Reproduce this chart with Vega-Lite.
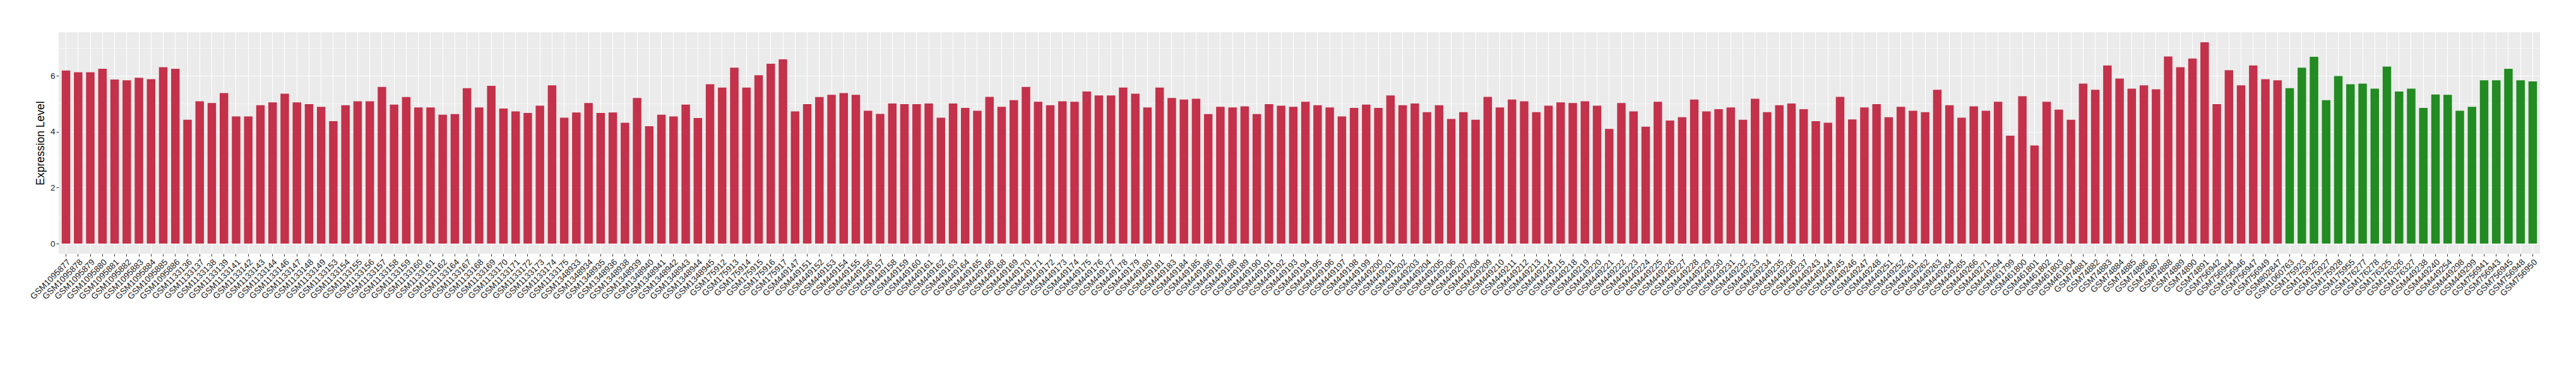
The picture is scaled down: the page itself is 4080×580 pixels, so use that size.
{
  "$schema": "https://vega.github.io/schema/vega-lite/v6.json",
  "autosize": {"type": "none"},
  "width": 3930,
  "height": 351,
  "padding": {"left": 93, "top": 51, "right": 57, "bottom": 178},
  "background": "white",
  "config": {
    "view": {"fill": "#EBEBEB", "stroke": null},
    "font": "Liberation Sans"
  },
  "data": {"values": [
    {"sample":"GSM1095877","value":6.19,"group":"A"},
    {"sample":"GSM1095878","value":6.13,"group":"A"},
    {"sample":"GSM1095879","value":6.13,"group":"A"},
    {"sample":"GSM1095880","value":6.25,"group":"A"},
    {"sample":"GSM1095881","value":5.87,"group":"A"},
    {"sample":"GSM1095882","value":5.84,"group":"A"},
    {"sample":"GSM1095883","value":5.93,"group":"A"},
    {"sample":"GSM1095884","value":5.88,"group":"A"},
    {"sample":"GSM1095885","value":6.31,"group":"A"},
    {"sample":"GSM1095886","value":6.25,"group":"A"},
    {"sample":"GSM1133136","value":4.43,"group":"A"},
    {"sample":"GSM1133137","value":5.09,"group":"A"},
    {"sample":"GSM1133138","value":5.03,"group":"A"},
    {"sample":"GSM1133139","value":5.38,"group":"A"},
    {"sample":"GSM1133141","value":4.55,"group":"A"},
    {"sample":"GSM1133142","value":4.55,"group":"A"},
    {"sample":"GSM1133143","value":4.95,"group":"A"},
    {"sample":"GSM1133144","value":5.05,"group":"A"},
    {"sample":"GSM1133146","value":5.36,"group":"A"},
    {"sample":"GSM1133147","value":5.05,"group":"A"},
    {"sample":"GSM1133148","value":4.99,"group":"A"},
    {"sample":"GSM1133149","value":4.89,"group":"A"},
    {"sample":"GSM1133153","value":4.38,"group":"A"},
    {"sample":"GSM1133154","value":4.95,"group":"A"},
    {"sample":"GSM1133155","value":5.09,"group":"A"},
    {"sample":"GSM1133156","value":5.09,"group":"A"},
    {"sample":"GSM1133157","value":5.60,"group":"A"},
    {"sample":"GSM1133158","value":4.97,"group":"A"},
    {"sample":"GSM1133159","value":5.24,"group":"A"},
    {"sample":"GSM1133160","value":4.87,"group":"A"},
    {"sample":"GSM1133161","value":4.87,"group":"A"},
    {"sample":"GSM1133162","value":4.61,"group":"A"},
    {"sample":"GSM1133164","value":4.63,"group":"A"},
    {"sample":"GSM1133167","value":5.56,"group":"A"},
    {"sample":"GSM1133168","value":4.87,"group":"A"},
    {"sample":"GSM1133169","value":5.64,"group":"A"},
    {"sample":"GSM1133170","value":4.83,"group":"A"},
    {"sample":"GSM1133171","value":4.73,"group":"A"},
    {"sample":"GSM1133172","value":4.67,"group":"A"},
    {"sample":"GSM1133173","value":4.93,"group":"A"},
    {"sample":"GSM1133174","value":5.66,"group":"A"},
    {"sample":"GSM1133175","value":4.50,"group":"A"},
    {"sample":"GSM1348933","value":4.69,"group":"A"},
    {"sample":"GSM1348934","value":5.03,"group":"A"},
    {"sample":"GSM1348935","value":4.67,"group":"A"},
    {"sample":"GSM1348936","value":4.69,"group":"A"},
    {"sample":"GSM1348938","value":4.32,"group":"A"},
    {"sample":"GSM1348939","value":5.21,"group":"A"},
    {"sample":"GSM1348940","value":4.20,"group":"A"},
    {"sample":"GSM1348941","value":4.61,"group":"A"},
    {"sample":"GSM1348942","value":4.55,"group":"A"},
    {"sample":"GSM1348943","value":4.97,"group":"A"},
    {"sample":"GSM1348944","value":4.49,"group":"A"},
    {"sample":"GSM1348945","value":5.70,"group":"A"},
    {"sample":"GSM175912","value":5.58,"group":"A"},
    {"sample":"GSM175913","value":6.29,"group":"A"},
    {"sample":"GSM175914","value":5.58,"group":"A"},
    {"sample":"GSM175915","value":6.02,"group":"A"},
    {"sample":"GSM175916","value":6.43,"group":"A"},
    {"sample":"GSM175917","value":6.59,"group":"A"},
    {"sample":"GSM449147","value":4.73,"group":"A"},
    {"sample":"GSM449151","value":4.99,"group":"A"},
    {"sample":"GSM449152","value":5.24,"group":"A"},
    {"sample":"GSM449153","value":5.32,"group":"A"},
    {"sample":"GSM449154","value":5.38,"group":"A"},
    {"sample":"GSM449155","value":5.32,"group":"A"},
    {"sample":"GSM449156","value":4.75,"group":"A"},
    {"sample":"GSM449157","value":4.64,"group":"A"},
    {"sample":"GSM449158","value":5.01,"group":"A"},
    {"sample":"GSM449159","value":4.99,"group":"A"},
    {"sample":"GSM449160","value":4.99,"group":"A"},
    {"sample":"GSM449161","value":5.01,"group":"A"},
    {"sample":"GSM449162","value":4.50,"group":"A"},
    {"sample":"GSM449163","value":5.01,"group":"A"},
    {"sample":"GSM449164","value":4.85,"group":"A"},
    {"sample":"GSM449165","value":4.75,"group":"A"},
    {"sample":"GSM449166","value":5.25,"group":"A"},
    {"sample":"GSM449168","value":4.89,"group":"A"},
    {"sample":"GSM449169","value":5.13,"group":"A"},
    {"sample":"GSM449170","value":5.60,"group":"A"},
    {"sample":"GSM449171","value":5.07,"group":"A"},
    {"sample":"GSM449172","value":4.95,"group":"A"},
    {"sample":"GSM449173","value":5.09,"group":"A"},
    {"sample":"GSM449174","value":5.07,"group":"A"},
    {"sample":"GSM449175","value":5.44,"group":"A"},
    {"sample":"GSM449176","value":5.30,"group":"A"},
    {"sample":"GSM449177","value":5.30,"group":"A"},
    {"sample":"GSM449178","value":5.58,"group":"A"},
    {"sample":"GSM449179","value":5.36,"group":"A"},
    {"sample":"GSM449180","value":4.87,"group":"A"},
    {"sample":"GSM449181","value":5.58,"group":"A"},
    {"sample":"GSM449183","value":5.21,"group":"A"},
    {"sample":"GSM449184","value":5.15,"group":"A"},
    {"sample":"GSM449185","value":5.18,"group":"A"},
    {"sample":"GSM449186","value":4.63,"group":"A"},
    {"sample":"GSM449187","value":4.89,"group":"A"},
    {"sample":"GSM449188","value":4.87,"group":"A"},
    {"sample":"GSM449189","value":4.91,"group":"A"},
    {"sample":"GSM449190","value":4.63,"group":"A"},
    {"sample":"GSM449191","value":4.99,"group":"A"},
    {"sample":"GSM449192","value":4.93,"group":"A"},
    {"sample":"GSM449193","value":4.89,"group":"A"},
    {"sample":"GSM449194","value":5.07,"group":"A"},
    {"sample":"GSM449195","value":4.95,"group":"A"},
    {"sample":"GSM449196","value":4.87,"group":"A"},
    {"sample":"GSM449197","value":4.55,"group":"A"},
    {"sample":"GSM449198","value":4.85,"group":"A"},
    {"sample":"GSM449199","value":4.97,"group":"A"},
    {"sample":"GSM449200","value":4.85,"group":"A"},
    {"sample":"GSM449201","value":5.30,"group":"A"},
    {"sample":"GSM449202","value":4.95,"group":"A"},
    {"sample":"GSM449203","value":5.01,"group":"A"},
    {"sample":"GSM449204","value":4.70,"group":"A"},
    {"sample":"GSM449205","value":4.95,"group":"A"},
    {"sample":"GSM449206","value":4.46,"group":"A"},
    {"sample":"GSM449207","value":4.70,"group":"A"},
    {"sample":"GSM449208","value":4.43,"group":"A"},
    {"sample":"GSM449209","value":5.25,"group":"A"},
    {"sample":"GSM449210","value":4.87,"group":"A"},
    {"sample":"GSM449211","value":5.15,"group":"A"},
    {"sample":"GSM449212","value":5.09,"group":"A"},
    {"sample":"GSM449213","value":4.70,"group":"A"},
    {"sample":"GSM449214","value":4.93,"group":"A"},
    {"sample":"GSM449215","value":5.05,"group":"A"},
    {"sample":"GSM449218","value":5.03,"group":"A"},
    {"sample":"GSM449219","value":5.09,"group":"A"},
    {"sample":"GSM449220","value":4.93,"group":"A"},
    {"sample":"GSM449221","value":4.10,"group":"A"},
    {"sample":"GSM449222","value":5.03,"group":"A"},
    {"sample":"GSM449223","value":4.73,"group":"A"},
    {"sample":"GSM449224","value":4.18,"group":"A"},
    {"sample":"GSM449225","value":5.07,"group":"A"},
    {"sample":"GSM449226","value":4.40,"group":"A"},
    {"sample":"GSM449227","value":4.52,"group":"A"},
    {"sample":"GSM449228","value":5.15,"group":"A"},
    {"sample":"GSM449229","value":4.73,"group":"A"},
    {"sample":"GSM449230","value":4.81,"group":"A"},
    {"sample":"GSM449231","value":4.87,"group":"A"},
    {"sample":"GSM449232","value":4.43,"group":"A"},
    {"sample":"GSM449233","value":5.18,"group":"A"},
    {"sample":"GSM449234","value":4.70,"group":"A"},
    {"sample":"GSM449235","value":4.95,"group":"A"},
    {"sample":"GSM449236","value":5.01,"group":"A"},
    {"sample":"GSM449237","value":4.81,"group":"A"},
    {"sample":"GSM449243","value":4.38,"group":"A"},
    {"sample":"GSM449244","value":4.32,"group":"A"},
    {"sample":"GSM449245","value":5.25,"group":"A"},
    {"sample":"GSM449246","value":4.44,"group":"A"},
    {"sample":"GSM449247","value":4.87,"group":"A"},
    {"sample":"GSM449248","value":4.99,"group":"A"},
    {"sample":"GSM449251","value":4.52,"group":"A"},
    {"sample":"GSM449252","value":4.89,"group":"A"},
    {"sample":"GSM449261","value":4.75,"group":"A"},
    {"sample":"GSM449262","value":4.70,"group":"A"},
    {"sample":"GSM449263","value":5.50,"group":"A"},
    {"sample":"GSM449264","value":4.95,"group":"A"},
    {"sample":"GSM449265","value":4.50,"group":"A"},
    {"sample":"GSM449266","value":4.91,"group":"A"},
    {"sample":"GSM449271","value":4.75,"group":"A"},
    {"sample":"GSM449294","value":5.07,"group":"A"},
    {"sample":"GSM461799","value":3.86,"group":"A"},
    {"sample":"GSM461800","value":5.27,"group":"A"},
    {"sample":"GSM461801","value":3.51,"group":"A"},
    {"sample":"GSM461802","value":5.07,"group":"A"},
    {"sample":"GSM461803","value":4.79,"group":"A"},
    {"sample":"GSM461804","value":4.43,"group":"A"},
    {"sample":"GSM74881","value":5.72,"group":"A"},
    {"sample":"GSM74882","value":5.50,"group":"A"},
    {"sample":"GSM74883","value":6.37,"group":"A"},
    {"sample":"GSM74884","value":5.90,"group":"A"},
    {"sample":"GSM74885","value":5.54,"group":"A"},
    {"sample":"GSM74886","value":5.66,"group":"A"},
    {"sample":"GSM74887","value":5.52,"group":"A"},
    {"sample":"GSM74888","value":6.69,"group":"A"},
    {"sample":"GSM74889","value":6.31,"group":"A"},
    {"sample":"GSM74890","value":6.62,"group":"A"},
    {"sample":"GSM74891","value":7.20,"group":"A"},
    {"sample":"GSM756942","value":4.99,"group":"A"},
    {"sample":"GSM756944","value":6.20,"group":"A"},
    {"sample":"GSM756946","value":5.66,"group":"A"},
    {"sample":"GSM756947","value":6.37,"group":"A"},
    {"sample":"GSM756949","value":5.88,"group":"A"},
    {"sample":"GSM802847","value":5.84,"group":"A"},
    {"sample":"GSM1060763","value":5.56,"group":"B"},
    {"sample":"GSM175923","value":6.29,"group":"B"},
    {"sample":"GSM175925","value":6.68,"group":"B"},
    {"sample":"GSM175927","value":5.13,"group":"B"},
    {"sample":"GSM175928","value":5.99,"group":"B"},
    {"sample":"GSM175955","value":5.70,"group":"B"},
    {"sample":"GSM176277","value":5.72,"group":"B"},
    {"sample":"GSM176278","value":5.54,"group":"B"},
    {"sample":"GSM176325","value":6.33,"group":"B"},
    {"sample":"GSM176326","value":5.44,"group":"B"},
    {"sample":"GSM176327","value":5.54,"group":"B"},
    {"sample":"GSM449238","value":4.85,"group":"B"},
    {"sample":"GSM449240","value":5.33,"group":"B"},
    {"sample":"GSM449254","value":5.32,"group":"B"},
    {"sample":"GSM449298","value":4.75,"group":"B"},
    {"sample":"GSM449299","value":4.89,"group":"B"},
    {"sample":"GSM756941","value":5.84,"group":"B"},
    {"sample":"GSM756943","value":5.84,"group":"B"},
    {"sample":"GSM756945","value":6.25,"group":"B"},
    {"sample":"GSM756948","value":5.84,"group":"B"},
    {"sample":"GSM756950","value":5.80,"group":"B"}
  ]},
  "mark": {"type": "bar"},
  "encoding": {
    "x": {
      "field": "sample", "type": "nominal", "sort": null,
      "scale": {"paddingInner": 0.3, "paddingOuter": 0.25},
      "axis": {
        "title": null, "labelAngle": -45, "labelOverlap": false, "labelLimit": 0,
        "labelFont": "Liberation Sans", "labelFontSize": 13.5, "labelColor": "#222222",
        "labelAlign": "right", "labelBaseline": "top", "labelPadding": 2,
        "domain": false, "ticks": true, "tickColor": "#333333", "tickSize": 4, "tickWidth": 1,
        "grid": true, "gridColor": "white", "gridWidth": 1.1, "bandPosition": 0.5
      }
    },
    "y": {
      "field": "value", "type": "quantitative",
      "scale": {"domain": [-0.36, 7.56], "nice": false, "zero": false},
      "axis": {
        "title": "Expression Level", "titleFont": "Liberation Sans", "titleFontSize": 17.5,
        "titleFontWeight": "normal", "titleColor": "black", "titlePadding": 6,
        "values": [0, 1, 2, 3, 4, 5, 6, 7],
        "labelExpr": "datum.value % 2 === 0 ? datum.label : ''",
        "labelFont": "Liberation Sans", "labelFontSize": 13.5, "labelColor": "#222222", "labelPadding": 2,
        "domain": false, "tickColor": "#333333", "tickSize": 4,
        "tickOpacity": {"condition": {"test": "datum.value % 2 === 0", "value": 1}, "value": 0},
        "grid": true, "gridColor": "white",
        "gridWidth": {"condition": {"test": "datum.value % 2 === 0", "value": 1.1}, "value": 0.5}
      }
    },
    "y2": {"datum": 0},
    "color": {
      "field": "group", "type": "nominal",
      "scale": {"domain": ["A", "B"], "range": ["#C3314A", "#228B22"]},
      "legend": null
    }
  }
}
